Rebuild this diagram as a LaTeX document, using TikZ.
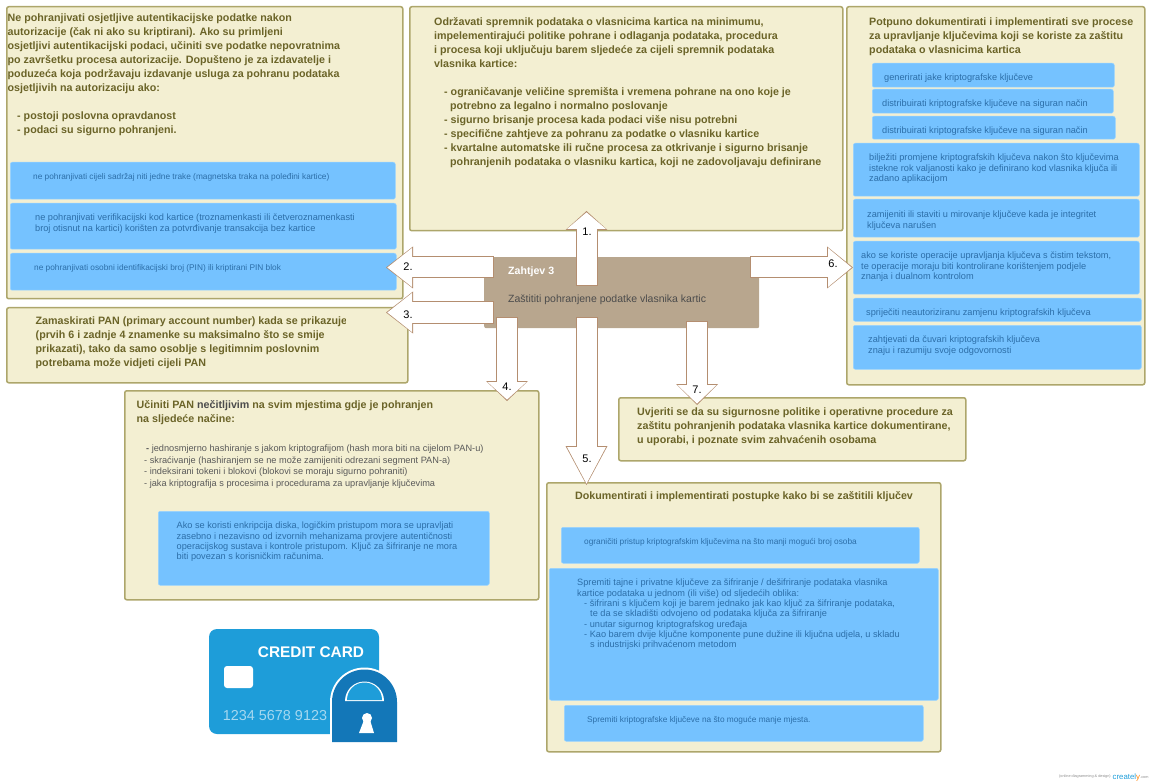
\documentclass[tikz,border=0pt]{standalone}
\usepackage{fontspec}
\setmainfont{Liberation Sans}
\usetikzlibrary{arrows.meta}
\definecolor{creamfill}{HTML}{F3EFD2}
\definecolor{creamline}{HTML}{ADA66B}
\definecolor{headcolor}{HTML}{6B6428}
\definecolor{skyfill}{HTML}{75C2FF}
\definecolor{skyline}{HTML}{9AD3FF}
\definecolor{skytext}{HTML}{2C6EA8}
\definecolor{tanfill}{HTML}{B8A68E}
\definecolor{arrowline}{HTML}{B48E70}
\definecolor{cardblue}{HTML}{1E9DD9}
\definecolor{lockblue}{HTML}{1377B8}
\tikzset{
  creambox/.style={draw=creamline, line width=1.5pt, rounded corners=2pt, fill=creamfill, anchor=north west, inner sep=0pt},
  skybox/.style={draw=skyline, line width=0.5pt, rounded corners=2pt, fill=skyfill, anchor=north west, inner sep=0pt},
  headtext/.style={anchor=north west, inner sep=0pt, align=left, text=headcolor, font=\fontsize{10.7}{14}\selectfont\bfseries},
  skytxt/.style={anchor=north west, inner sep=0pt, yshift=-1pt, align=left, text=skytext, font=\fontsize{9.2}{10.3}\selectfont},
  skytight/.style={skytxt, font=\fontsize{8.3}{10.3}\selectfont},
  greytxt/.style={anchor=north west, inner sep=0pt, align=left, text=black!65, font=\fontsize{9.2}{11.7}\selectfont},
  numtext/.style={inner sep=0pt, text=black, font=\fontsize{11}{13}\selectfont},
  blockarrow/.style={white, line width=20pt, shorten >=1.4pt,
    -{Triangle[width=39pt,length=#1pt-2.4pt,line width=0pt]},
    preaction={draw=arrowline, line width=22pt, shorten >=0pt, shorten <=-1pt,
      -{Triangle[width=42pt,length=#1pt,line width=0pt]}}}
}
\begin{document}
\begin{tikzpicture}[x=1pt, y=-1pt]
  \useasboundingbox (0,0) rectangle (1150,783);

  \node[creambox, minimum width=396pt, minimum height=292pt] (box2) at (6,6) {};
  \node[creambox, minimum width=433pt, minimum height=224pt] (box1) at (409,6) {};
  \node[creambox, minimum width=298pt, minimum height=378pt] (box6) at (846,6) {};
  \node[creambox, minimum width=401pt, minimum height=75pt] (box3) at (6,307) {};
  \node[creambox, minimum width=414pt, minimum height=209pt] (box4) at (124,390) {};
  \node[creambox, minimum width=347pt, minimum height=63pt] (box7) at (618,397) {};
  \node[creambox, minimum width=394pt, minimum height=269pt] (box5) at (546,482) {};

  \node[headtext] (txt2) at (7.5,13.5) {Ne pohranjivati osjetljive autentikacijske podatke nakon\\
    autorizacije (čak ni ako su kriptirani). Ako su primljeni\\
    osjetljivi autentikacijski podaci, učiniti sve podatke nepovratnima\\
    po završetku procesa autorizacije. Dopušteno je za izdavatelje i\\
    poduzeća koja podržavaju izdavanje usluga za pohranu podataka\\
    osjetljivih na autorizaciju ako:\\[14pt]
    \hspace*{9.5pt}- postoji poslovna opravdanost\\
    \hspace*{9.5pt}- podaci su sigurno pohranjeni.};
  \node[headtext] (txt1) at (434,17) {Održavati spremnik podataka o vlasnicima kartica na minimumu,\\
    impelementirajući politike pohrane i odlaganja podataka, procedura\\
    i procesa koji uključuju barem sljedeće za cijeli spremnik podataka\\
    vlasnika kartice:\\[14pt]
    \hspace*{10pt}- ograničavanje veličine spremišta i vremena pohrane na ono koje je\\
    \hspace*{16pt}potrebno za legalno i normalno poslovanje\\
    \hspace*{10pt}- sigurno brisanje procesa kada podaci više nisu potrebni\\
    \hspace*{10pt}- specifične zahtjeve za pohranu za podatke o vlasniku kartice\\
    \hspace*{10pt}- kvartalne automatske ili ručne procesa za otkrivanje i sigurno brisanje\\
    \hspace*{16pt}pohranjenih podataka o vlasniku kartica, koji ne zadovoljavaju definirane};
  \node[headtext] (txt6) at (869,17.5) {Potpuno dokumentirati i implementirati sve procese\\
    za upravljanje ključevima koji se koriste za zaštitu\\
    podataka o vlasnicima kartica};
  \begin{scope}
    \clip (6,307) rectangle (345,382);
    \node[headtext] (txt3) at (35.5,316.5) {Zamaskirati PAN (primary account number) kada se prikazuje\\
      (prvih 6 i zadnje 4 znamenke su maksimalno što se smije\\
      prikazati), tako da samo osoblje s legitimnim poslovnim\\
      potrebama može vidjeti cijeli PAN};
  \end{scope}
  \node[headtext] (txt4) at (136.5,400.5) {Učiniti PAN {\color{black!70}nečitljivim} na svim mjestima gdje je pohranjen\\
    na sljedeće načine:};
  \node[greytxt] (list4) at (144,444.5) {\hspace*{2pt}\textbf{-} jednosmjerno hashiranje s jakom kriptografijom (hash mora biti na cijelom PAN-u)\\
    - skraćivanje (hashiranjem se ne može zamijeniti odrezani segment PAN-a)\\
    - indeksirani tokeni i blokovi (blokovi se moraju sigurno pohraniti)\\
    - jaka kriptografija s procesima i procedurama za upravljanje ključevima};
  \node[headtext] (txt7) at (637,407.5) {Uvjeriti se da su sigurnosne politike i operativne procedure za\\
    zaštitu pohranjenih podataka vlasnika kartice dokumentirane,\\
    u uporabi, i poznate svim zahvaćenih osobama};
  \node[headtext] (txt5) at (575,491.5) {Dokumentirati i implementirati postupke kako bi se zaštitili ključev};

  \node[skybox, minimum width=385pt, minimum height=37pt] (sky2a) at (10,162) {};
  \node[skybox, minimum width=386pt, minimum height=46pt] (sky2b) at (10,203) {};
  \node[skybox, minimum width=386pt, minimum height=37pt] (sky2c) at (10,253) {};
  \node[skytight] (skytxt2a) at (33,172) {ne pohranjivati cijeli sadržaj niti jedne trake (magnetska traka na poleđini kartice)};
  \node[skytxt] (skytxt2b) at (35,213) {ne pohranjivati verifikacijski kod kartice (troznamenkasti ili četveroznamenkasti\\
    broj otisnut na kartici) korišten za potvrđivanje transakcija bez kartice};
  \node[skytight] (skytxt2c) at (34,263) {ne pohranjivati osobni identifikacijski broj (PIN) ili kriptirani PIN blok};

  \node[skybox, minimum width=242pt, minimum height=24pt] (sky6a) at (872,63) {};
  \node[skybox, minimum width=241pt, minimum height=24pt] (sky6b) at (872,89) {};
  \node[skybox, minimum width=243pt, minimum height=23pt] (sky6c) at (872,116) {};
  \node[skybox, minimum width=286pt, minimum height=53pt] (sky6d) at (853,143) {};
  \node[skybox, minimum width=286pt, minimum height=38pt] (sky6e) at (853,199) {};
  \node[skybox, minimum width=286pt, minimum height=53pt] (sky6f) at (853,241) {};
  \node[skybox, minimum width=288pt, minimum height=23pt] (sky6g) at (853,298) {};
  \node[skybox, minimum width=288pt, minimum height=44pt] (sky6h) at (853,325) {};
  \node[skytxt] (skytxt6a) at (884,73) {generirati jake kriptografske ključeve};
  \node[skytxt] (skytxt6b) at (882,99) {distribuirati kriptografske ključeve na siguran način};
  \node[skytxt] (skytxt6c) at (882,126) {distribuirati kriptografske ključeve na siguran način};
  \node[skytxt] (skytxt6d) at (869,153) {bilježiti promjene kriptografskih ključeva nakon što ključevima\\
    istekne rok valjanosti kako je definirano kod vlasnika ključa ili\\
    zadano aplikacijom};
  \node[skytxt] (skytxt6e) at (867,210) {zamijeniti ili staviti u mirovanje ključeve kada je integritet\\
    ključeva narušen};
  \node[skytxt] (skytxt6f) at (861,251) {ako se koriste operacije upravljanja ključeva s čistim tekstom,\\
    te operacije moraju biti kontrolirane korištenjem podjele\\
    znanja i dualnom kontrolom};
  \node[skytxt] (skytxt6g) at (866,308) {spriječiti neautoriziranu zamjenu kriptografskih ključeva};
  \node[skytxt] (skytxt6h) at (868,335) {zahtjevati da čuvari kriptografskih ključeva\\
    znaju i razumiju svoje odgovornosti};

  \node[skybox, minimum width=331pt, minimum height=74pt] (sky4) at (158,511) {};
  \node[skytxt] (skytxt4) at (176.5,521) {Ako se koristi enkripcija diska, logičkim pristupom mora se upravljati\\
    zasebno i nezavisno od izvornih mehanizama provjere autentičnosti\\
    operacijskog sustava i kontrole pristupom. Ključ za šifriranje ne mora\\
    biti povezan s korisničkim računima.};

  \node[skybox, minimum width=358pt, minimum height=36pt] (sky5a) at (561,527) {};
  \node[skybox, minimum width=389pt, minimum height=132pt] (sky5b) at (549,568) {};
  \node[skybox, minimum width=359pt, minimum height=36pt] (sky5c) at (564,705) {};
  \node[skytight] (skytxt5a) at (584,537) {ograničiti pristup kriptografskim ključevima na što manji mogući broj osoba};
  \node[skytxt] (skytxt5b) at (577,578) {Spremiti tajne i privatne ključeve za šifriranje / dešifriranje podataka vlasnika\\
    kartice podataka u jednom (ili više) od sljedećih oblika:\\
    \hspace*{7pt}- šifrirani s ključem koji je barem jednako jak kao ključ za šifriranje podataka,\\
    \hspace*{13pt}te da se skladišti odvojeno od podataka ključa za šifriranje\\
    \hspace*{7pt}- unutar sigurnog kriptografskog uređaja\\
    \hspace*{7pt}- Kao barem dvije ključne komponente pune dužine ili ključna udjela, u skladu\\
    \hspace*{13pt}s industrijski prihvaćenom metodom};
  \node[skytight] (skytxt5c) at (587,715) {Spremiti kriptografske ključeve na što moguće manje mjesta.};

  \node[fill=tanfill, rounded corners=2pt, anchor=north west, inner sep=0pt, minimum width=275pt, minimum height=71pt] (req) at (484,257) {};
  \node[anchor=west, inner sep=0pt, text=white, font=\fontsize{10.6}{12}\selectfont\bfseries] (reqtitle) at (508,272) {Zahtjev 3};
  \node[anchor=west, inner sep=0pt, text=black!70, font=\fontsize{10.5}{12}\selectfont] (reqtext) at (508,300) {Zaštititi pohranjene podatke vlasnika kartic};

  \coordinate (tail1) at (586.5,285);
  \coordinate (tip1) at (586.5,211);
  \coordinate (tail2) at (493,267.5);
  \coordinate (tip2) at (386,267.5);
  \coordinate (tail3) at (493,312.5);
  \coordinate (tip3) at (386,312.5);
  \coordinate (tail4) at (507,318);
  \coordinate (tip4) at (507,401);
  \coordinate (tail5) at (586.5,318);
  \coordinate (tip5) at (586.5,485);
  \coordinate (tail6) at (751,267.5);
  \coordinate (tip6) at (853,267.5);
  \coordinate (tail7) at (697,322);
  \coordinate (tip7) at (697,405);
  \draw[blockarrow=19] (tail1) -- (tip1);
  \draw[blockarrow=27] (tail2) -- (tip2);
  \draw[blockarrow=27] (tail3) -- (tip3);
  \draw[blockarrow=20] (tail4) -- (tip4);
  \draw[blockarrow=39] (tail5) -- (tip5);
  \draw[blockarrow=26] (tail6) -- (tip6);
  \draw[blockarrow=21] (tail7) -- (tip7);
  \node[numtext] (num1) at (587,232) {1.};
  \node[numtext] (num2) at (408,267) {2.};
  \node[numtext] (num3) at (408,315) {3.};
  \node[numtext] (num4) at (507,387) {4.};
  \node[numtext] (num5) at (587,459) {5.};
  \node[numtext] (num6) at (833,264) {6.};
  \node[numtext] (num7) at (697,390) {7.};

  \fill[cardblue, rounded corners=8pt] (209,629) rectangle (379,734);
  \fill[white, rounded corners=3pt] (224,666) rectangle (253,688);
  \node[inner sep=0pt, text=white, font=\fontsize{15.4}{17}\selectfont\bfseries] (cardname) at (311,652) {CREDIT CARD};
  \node[inner sep=0pt, text=cardblue!40, font=\fontsize{14.4}{16}\selectfont] (cardnum) at (275,715.5) {1234 5678 9123};
  \fill[white] (330,744) -- (330,702) arc[start angle=180, end angle=0, radius=34.5pt] -- (399,744) -- cycle;
  \fill[lockblue] (332,742) -- (332,702) arc[start angle=180, end angle=0, radius=32.5pt] -- (397,742) -- cycle;
  \fill[white] (345,701) arc[start angle=180, end angle=0, radius=19.5pt] -- cycle;
  \fill[cardblue] (347,700) arc[start angle=180, end angle=0, radius=17.5pt] -- cycle;
  \fill[white] (367,718) circle[radius=5pt];
  \fill[white] (364,720) -- (370,720) -- (374,733) -- (359,733) -- cycle;

  \node[anchor=west, inner sep=0pt, text=black!45, font=\fontsize{3.8}{5}\selectfont] (wmark) at (1059,777) {(online diagramming \& design)};
  \node[anchor=west, inner sep=0pt, text=cardblue, font=\fontsize{7.8}{9}\selectfont] (wbrand) at (1112.5,777) {createl{\color{orange}y}};
  \node[anchor=west, inner sep=0pt, text=black!45, font=\fontsize{3.8}{5}\selectfont] (wcom) at (1140,777.5) {.com};
\end{tikzpicture}
\end{document}
